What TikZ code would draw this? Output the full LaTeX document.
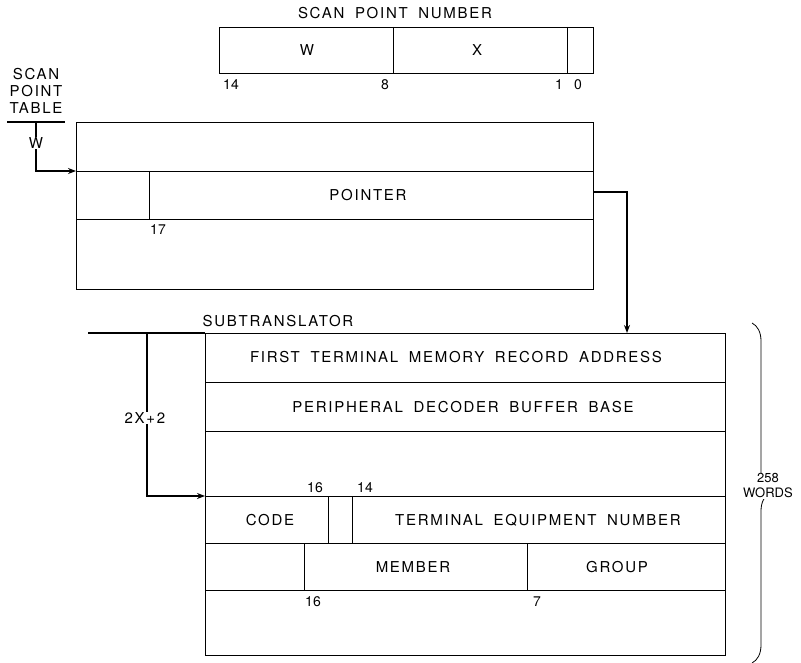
\documentclass[tikz,border=0pt]{standalone}
\usepackage{fontspec}
\newfontfamily\leroy[LetterSpace=11.5,WordSpace=1.8]{TeX Gyre Heros}
\newfontfamily\leroyn{TeX Gyre Heros}
\usetikzlibrary{arrows.meta,calc,positioning,decorations.pathreplacing}

\begin{document}
\begin{tikzpicture}[
  x=1pt,y=-1pt,
  >={Stealth[length=8pt,width=6pt]},
  word/.style={draw,line width=0.8pt,inner sep=0pt,anchor=north west},
  rule/.style={line width=0.8pt},
  link/.style={line width=1.6pt},
  lbl/.style={font=\leroy\fontsize{15}{17}\selectfont,inner sep=1pt},
  num/.style={font=\leroyn\fontsize{14}{16}\selectfont,inner sep=1pt}
]
  \useasboundingbox (0,0) rectangle (801,663);

  % Scan point number
  \node[lbl] (spnlbl) at (395,13) {SCAN POINT NUMBER};
  \node[word,minimum width=374pt,minimum height=46pt] (spn) at (219,27) {};
  \draw[rule] (393,27) -- (393,73);
  \draw[rule] (567,27) -- (567,73);
  \node[lbl] (wfld) at (307,50) {W};
  \node[lbl] (xfld) at (477,50) {X};
  \node[num] (b14) at (231,85) {14};
  \node[num] (b8) at (385,85) {8};
  \node[num] (b1) at (559,85) {1};
  \node[num] (b0) at (578,85) {0};

  % Scan point table
  \node[lbl,align=center] (spt) at (36,91) {SCAN\\POINT\\TABLE};
  \coordinate (sptl) at (7,122);
  \coordinate (sptr) at (65,122);
  \draw[link] (sptl) -- (sptr);
  \node[word,minimum width=517pt,minimum height=167pt] (tbl) at (76,122) {};
  \draw[rule] (76,171) -- (593,171);
  \draw[rule] (76,219) -- (593,219);
  \draw[rule] (149,171) -- (149,219);
  \node[lbl] (ptr) at (368,195) {POINTER};
  \node[num] (b17) at (158,230) {17};

  \coordinate (tbltop) at (36,122);
  \coordinate (tblin) at (76,171);
  \draw[link,->] (tbltop) |- (tblin);
  \node[lbl,fill=white] (wsel) at (36,143) {W};

  % Pointer to subtranslator
  \coordinate (ptrout) at (593,192);
  \coordinate (subin) at (627,333);
  \draw[link,->] (ptrout) -| (subin);

  % Subtranslator
  \node[lbl] (sublbl) at (278,321) {SUBTRANSLATOR};
  \node[word,minimum width=520pt,minimum height=322pt] (sub) at (205,333) {};
  \foreach \y in {382,431,496,543,590}
    \draw[rule] (205,\y) -- (725,\y);
  \draw[rule] (328,496) -- (328,543);
  \draw[rule] (352,496) -- (352,543);
  \draw[rule] (304,543) -- (304,590);
  \draw[rule] (527,543) -- (527,590);

  \node[lbl] (ftmra) at (456,357) {FIRST TERMINAL MEMORY RECORD ADDRESS};
  \node[lbl] (pdbb) at (463,407) {PERIPHERAL DECODER BUFFER BASE};
  \node[lbl] (code) at (270,520) {CODE};
  \node[lbl] (ten) at (538,520) {TERMINAL EQUIPMENT NUMBER};
  \node[lbl] (mem) at (413,567) {MEMBER};
  \node[lbl] (grp) at (617,567) {GROUP};
  \node[num] (c16) at (315,488) {16};
  \node[num] (c14) at (365,488) {14};
  \node[num] (m16) at (313,602) {16};
  \node[num] (m7) at (537,602) {7};

  \coordinate (subl) at (88,333);
  \coordinate (subtop) at (205,333);
  \draw[link] (subl) -- (subtop);
  \coordinate (offtop) at (147,333);
  \coordinate (offin) at (205,496);
  \draw[link,->] (offtop) |- (offin);
  \node[lbl,fill=white] (off) at (145,418) {2X+2};

  % Length of the subtranslator
  \coordinate (brt) at (752,323);
  \coordinate (brb) at (752,663);
  \draw[rule,decorate,decoration={brace,amplitude=18pt}] (brt) -- (brb);
  \node[font=\leroyn\fontsize{13}{15}\selectfont,align=center,fill=white,inner sep=1pt] (len) at (768,486) {258\\WORDS};
\end{tikzpicture}
\end{document}
